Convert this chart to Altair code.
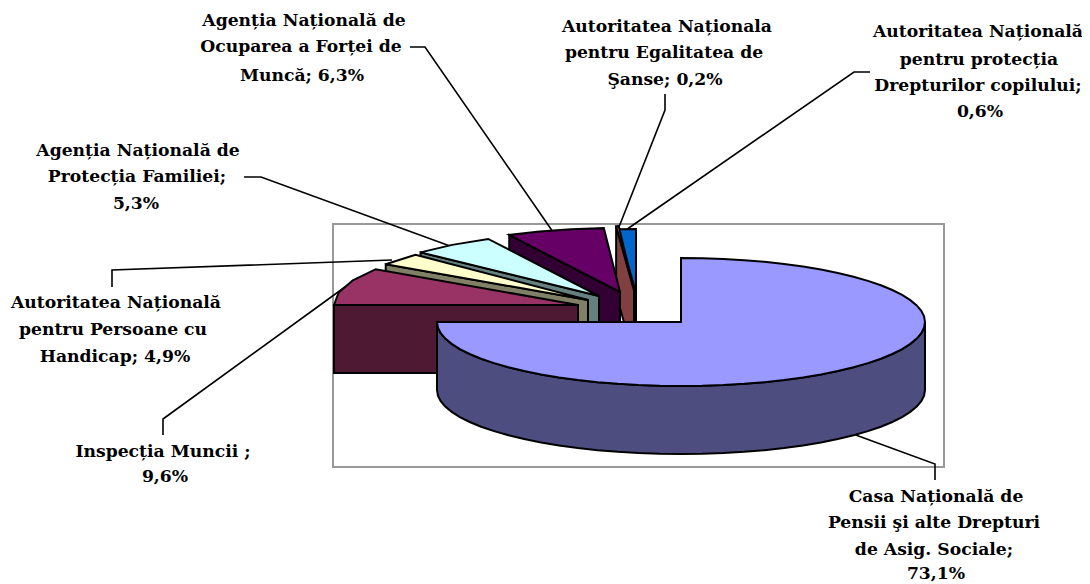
import math
import altair as alt
import pandas as pd

# ---- values (top face colour, side colour, share) ----
names = ["Casa Națională de Pensii şi alte Drepturi de Asig. Sociale",
         "Inspecția Muncii", "Autoritatea Națională pentru Persoane cu Handicap",
         "Agenția Națională de Protecția Familiei", "Agenția Națională de Ocuparea a Forței de Muncă",
         "Autoritatea Nationala pentru Egalitatea de Şanse", "Autoritatea Națională pentru protecția Drepturilor copilului"]
shares = [73.1, 9.6, 4.9, 5.3, 6.3, 0.2, 0.6]
top_colors = ["#9999FF", "#993366", "#FFFFCC", "#CCFFFF", "#660066", "#FF8080", "#0066CC"]
side_colors = ["#4D4D80", "#4D1933", "#808066", "#668080", "#330033", "#804040", "#003366"]

# pie drawing: ellipse radii and depth of the 3D pie
RX, RY, DEPTH = 244, 64, 68
# apex of each exploded slice and the arc it spans (clockwise degrees from 12 o'clock)
apex_x = [681, 578, 588, 599, 620, 634, 636]
apex_y = [322, 305, 300, 296, 292, 290, 293]
arc_a = [0, -90, -56, -47, -27, -4.2, -4.2]
arc_b = [270, -56, -45, -27, -3.8, -3.6, 0]
arc_step = [5, 11, 11, 11, 8, 1, 5]

label_text = ["Agenția Națională de", "Ocuparea a Forței de", "Muncă; 6,3%",
              "Agenția Națională de", "Protecția Familiei;", "5,3%",
              "Autoritatea Națională", "pentru Persoane cu", "Handicap; 4,9%",
              "Inspecția Muncii ;", "9,6%",
              "Casa Națională de", "Pensii şi alte Drepturi", "de Asig. Sociale;", "73,1%",
              "Autoritatea Naționala", "pentru Egalitatea de", "Şanse; 0,2%",
              "Autoritatea Națională", "pentru protecția", "Drepturilor copilului;", "0,6%"]
label_x = [304, 301, 302, 138, 137, 136, 116, 113, 115, 163, 165, 936, 934, 934, 936, 667, 664, 665, 978, 979, 978, 980]
label_y = [21, 47, 76, 151, 177, 204, 303, 330, 357, 452, 477, 497, 523, 550, 574, 27, 53, 80, 32, 60, 86, 112]

leader_x = [[410, 425, 553], [244, 261, 450], [112, 112, 392], [163, 163, 345], [853, 935, 935], [665, 665, 617], [870, 854, 623]]
leader_y = [[47, 47, 232], [177, 177, 246], [287, 270, 260], [435, 419, 287], [434, 464, 480], [94, 110, 232], [72, 72, 232]]

frame_x = [333, 944, 944, 333]
frame_y = [224, 224, 467, 467]

X = alt.X("x:Q", scale=alt.Scale(domain=[8, 1082], range=[0, 1074]), axis=None)
Y = alt.Y("y:Q", scale=alt.Scale(domain=[8, 582], range=[0, 574]), axis=None)


def arc(i):
    a, b, s = arc_a[i], arc_b[i], arc_step[i]
    n = max(1, round((b - a) / s))
    pts = []
    for k in range(n + 1):
        t = math.radians(a + (b - a) * k / n)
        pts.append((apex_x[i] + RX * math.sin(t), apex_y[i] - RY * math.cos(t)))
    return pts


def poly(points, fill, sw=2):
    df = pd.DataFrame({"x": [p[0] for p in points], "y": [p[1] for p in points], "i": range(len(points))})
    return alt.Chart(df).mark_line(fill=fill, stroke="black", strokeWidth=sw, interpolate="linear-closed",
                                   strokeJoin="miter").encode(x=X, y=Y, order="i:Q")


layers = []
fdf = pd.DataFrame({"x": frame_x, "y": frame_y, "i": range(4)})
layers.append(alt.Chart(fdf).mark_line(stroke="#999999", strokeWidth=2, interpolate="linear-closed").encode(x=X, y=Y, order="i:Q"))

for lx, ly in zip(leader_x, leader_y):
    d = pd.DataFrame({"x": lx, "y": ly, "i": range(len(lx))})
    layers.append(alt.Chart(d).mark_line(stroke="black", strokeWidth=1.6).encode(x=X, y=Y, order="i:Q"))

# back to front
for i in [6, 5, 4, 3, 2, 1]:
    pts = arc(i)
    ax, ay = apex_x[i], apex_y[i]
    lx, ly = pts[0]
    layers.append(poly([(ax, ay), (lx, ly), (lx, ly + DEPTH), (ax, ay + DEPTH)], side_colors[i]))
    layers.append(poly([(ax, ay)] + pts, top_colors[i]))

# big slice: rim, then top
pts = arc(0)
front = [p for p, k in zip(pts, range(len(pts))) if 90 <= arc_a[0] + k * 5 <= 270]
layers.append(poly(front + [(x, y + DEPTH) for x, y in reversed(front)], side_colors[0]))
layers.append(poly([(apex_x[0], apex_y[0])] + pts, top_colors[0]))

tdf = pd.DataFrame({"x": label_x, "y": label_y, "t": label_text})
layers.append(alt.Chart(tdf).mark_text(font="DejaVu Serif", fontWeight="bold", fontSize=17.2, align="center",
                                       baseline="middle", color="black").encode(x=X, y=Y, text="t:N"))

chart = alt.layer(*layers).properties(width=1074, height=574,
                                      padding={"left": 0, "top": 0, "right": 0, "bottom": 0},
                                      autosize=alt.AutoSizeParams(type="none")).configure(
    background="white", view=alt.ViewConfig(stroke=None))
chart.save("out.html", embed_options={"renderer": "svg", "actions": False})
